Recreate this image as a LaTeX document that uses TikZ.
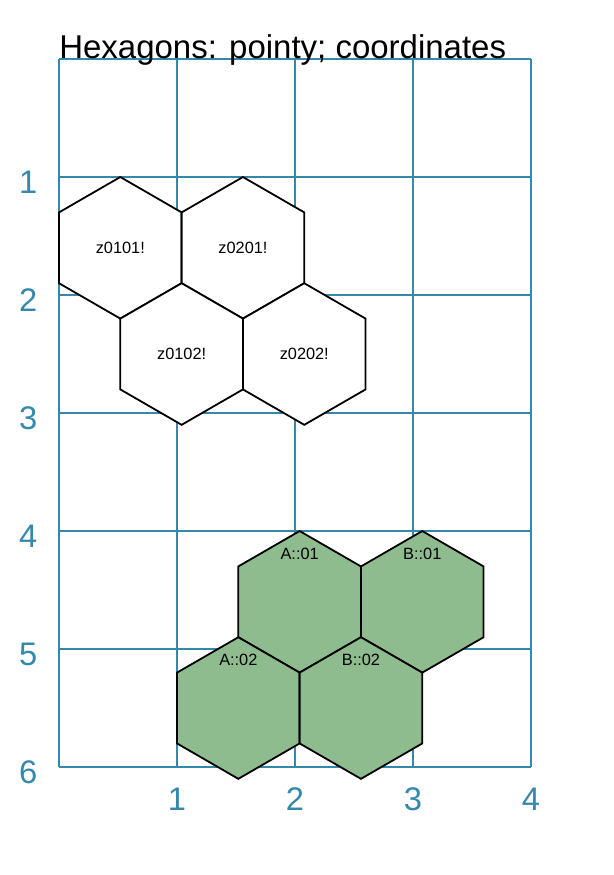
\documentclass[tikz,border=0pt]{standalone}
\usepackage{fontspec}
\setmainfont{Liberation Sans}
\usetikzlibrary{shapes.geometric}
\definecolor{gridblue}{RGB}{52,136,172}
\definecolor{hexgreen}{RGB}{143,188,143}
\tikzset{
  gridline/.style={draw=gridblue, line width=1.2pt},
  axislab/.style={text=gridblue, font=\fontsize{20}{22}\selectfont, inner sep=0pt},
  hexbase/.style={regular polygon, regular polygon sides=6, shape border rotate=30,
    minimum size=1.2in, inner sep=0pt, outer sep=0pt, draw=black, line width=1.1pt,
    font=\fontsize{10}{12}\selectfont},
  hexwhite/.style={hexbase, fill=white},
  hexgreen/.style={hexbase, fill=hexgreen},
  hexlab/.style={font=\fontsize{10}{12}\selectfont, inner sep=0pt},
  titlestyle/.style={font=\fontsize{20.2}{24}\selectfont, inner sep=0pt, anchor=base west}
}
\begin{document}
\begin{tikzpicture}[x=1in, y=-1in]
\useasboundingbox (-0.5,-0.5) rectangle (4.695,6.915);
% grid
\foreach \i in {0,...,4} { \draw[gridline] (\i,0) -- (\i,6); }
\foreach \j in {0,...,6} { \draw[gridline] (0,\j) -- (4,\j); }
% axis labels
\foreach \j in {1,...,6} { \node[axislab] (ly\j) at (-0.26,\j+0.045) {\j}; }
\foreach \i in {1,...,4} { \node[axislab] (lx\i) at (\i,6.27) {\i}; }
% title
\node[titlestyle] (title) at (0,-0.006) {Hexagons: pointy; coordinates};
% white hexes
\node[hexwhite] (z0101) at (0.5196,1.6) {z0101!};
\node[hexwhite] (z0201) at (1.5588,1.6) {z0201!};
\node[hexwhite] (z0102) at (1.0392,2.5) {z0102!};
\node[hexwhite] (z0202) at (2.0785,2.5) {z0202!};
% green hexes
\node[hexgreen] (A01) at (2.0392,4.6) {};
\node[hexgreen] (B01) at (3.0785,4.6) {};
\node[hexgreen] (A02) at (1.5196,5.5) {};
\node[hexgreen] (B02) at (2.5588,5.5) {};
\node[hexlab] (tA01) at ([yshift=0.41in]A01.center) {A::01};
\node[hexlab] (tB01) at ([yshift=0.41in]B01.center) {B::01};
\node[hexlab] (tA02) at ([yshift=0.41in]A02.center) {A::02};
\node[hexlab] (tB02) at ([yshift=0.41in]B02.center) {B::02};
\end{tikzpicture}
\end{document}
